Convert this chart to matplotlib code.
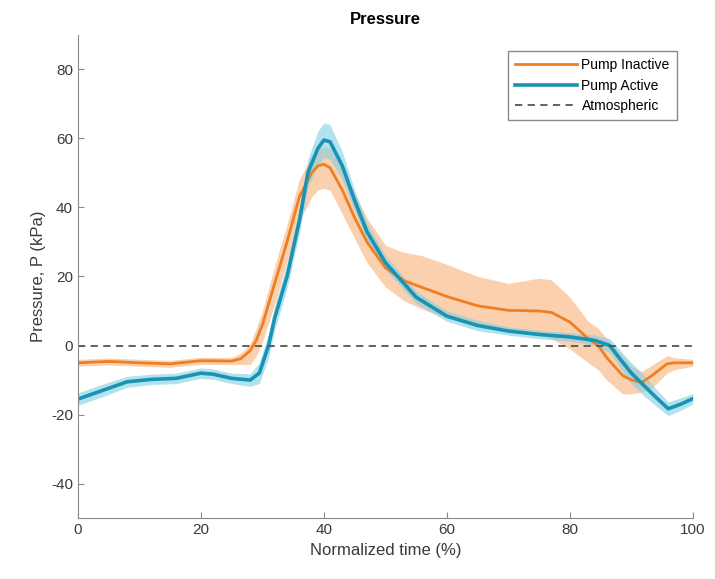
import numpy as np
import matplotlib.pyplot as plt

# Pump inactive: mean and band edges
x_in = [0, 5, 10, 15, 20, 25, 26.5, 28, 29, 30, 32, 34, 36, 38, 39, 40, 41, 43, 45, 47, 50, 53,
        56, 60, 65, 70, 75, 77, 80, 83, 84.6, 86, 88.6, 90, 91.7, 93.5, 95.8, 97, 100]
in_mean = [-5, -4.6, -5, -5.3, -4.4, -4.5, -3.8, -1.5, 1.5, 6, 18, 30, 43, 50, 52, 52.5, 51.5,
           45, 37, 30, 22.5, 18.8, 16.8, 14.2, 11.5, 10.2, 10, 9.6, 6.8, 2, 0, -3.5, -8.7, -10,
           -10.7, -8.5, -5.3, -5, -5]
in_lo = [-6, -5.6, -6, -6.3, -5.4, -5.5, -5.5, -5.5, -3, 1, 12, 24, 36, 43, 45, 45.5, 45, 38,
         31, 24, 17, 13, 10.5, 8, 6, 4, 3, 2, -1, -5, -7, -10, -14, -14, -13.5, -12, -8, -7, -6]
in_hi = [-4, -3.6, -4, -4.3, -3.4, -3.5, -2.2, 0.5, 5, 10, 23, 35, 48, 55, 57, 57.5, 57, 51,
         44, 37, 29, 27, 26, 23.5, 20, 18, 19.5, 19, 14, 7, 5, 2, -3, -6, -7.5, -5.5, -3,
         -3.5, -4]

# Pump active: mean and band half width
x_ac = [0, 4, 8, 12, 16, 20, 22, 25, 28, 29.5, 31, 32, 34, 36, 37.4, 39, 40, 41, 43, 45, 47,
        50, 55, 60, 65, 70, 75, 80, 84, 86.5, 88, 90, 92, 94, 96, 98, 100]
ac_mean = [-15.5, -13, -10.5, -9.8, -9.5, -8, -8.3, -9.5, -10, -8, 0, 8, 20, 36, 50, 57,
           59.5, 59, 52, 42, 33, 24, 14, 8.5, 5.8, 4.2, 3.2, 2.5, 1.5, 0, -3.5, -8, -11.5,
           -15, -18.3, -17, -15.4]
ac_hw = [1.8, 1.8, 1.6, 1.5, 1.5, 1.5, 1.5, 1.5, 1.8, 3, 3.5, 3.5, 3.5, 3.5, 4, 5, 5, 5, 4,
         3, 2.5, 2, 1.8, 1.5, 1.5, 1.2, 1.2, 1.2, 1.5, 2, 2.5, 3, 3, 2.5, 2, 1.8, 1.5]

orange = '#EE7F22'
blue = '#1A93B3'

plt.rcParams['font.family'] = ['Liberation Sans', 'DejaVu Sans']
plt.rcParams['axes.unicode_minus'] = False
fig = plt.figure(figsize=(7.15, 5.79), dpi=100)
ax = fig.add_axes([0.109, 0.105, 0.86, 0.835])

ac_mean_a = np.array(ac_mean)
ac_hw_a = np.array(ac_hw)
ax.fill_between(x_in, in_lo, in_hi, color='#F9C195', alpha=0.75, lw=0)
ax.fill_between(x_ac, ac_mean_a - ac_hw_a, ac_mean_a + ac_hw_a, color='#7FCFE3', alpha=0.6, lw=0)
ax.plot(x_in, in_mean, color=orange, lw=2, label='Pump Inactive', solid_joinstyle='round')
ax.plot(x_ac, ac_mean, color=blue, lw=2.6, label='Pump Active', solid_joinstyle='round')
ax.axhline(0, color='#555555', ls=(0, (4, 3)), lw=1.3, label='Atmospheric')

ax.set_xlim(0, 100)
ax.set_ylim(-50, 90)
ax.set_xticks([0, 20, 40, 60, 80, 100])
ax.set_yticks([-40, -20, 0, 20, 40, 60, 80])
for s in ['top', 'right']:
    ax.spines[s].set_visible(False)
for s in ['left', 'bottom']:
    ax.spines[s].set_color('#8a8a8a')
ax.tick_params(direction='in', length=4, color='#8a8a8a', labelcolor='#3a3a3a', labelsize=11)

ax.set_title('Pressure', fontsize=12, fontweight='bold', pad=8)
ax.set_xlabel('Normalized time (%)', fontsize=12, color='#3a3a3a')
ax.set_ylabel('Pressure, P (kPa)', fontsize=12, color='#3a3a3a')

leg = ax.legend(loc='upper right', bbox_to_anchor=(0.985, 0.98), fontsize=10, handlelength=4.5,
                handletextpad=0.3, borderpad=0.5, labelspacing=0.45, fancybox=False,
                edgecolor='#8a8a8a', framealpha=1)
leg.get_frame().set_linewidth(1)

fig.savefig('out.png', dpi=100)
